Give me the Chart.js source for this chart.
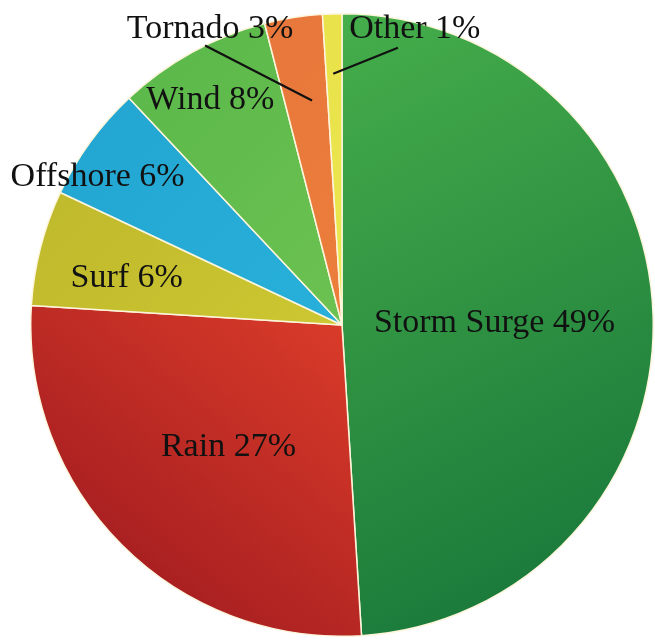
<!DOCTYPE html>
<html>
<head>
<meta charset="utf-8">
<script src="https://cdn.jsdelivr.net/npm/chart.js@4/dist/chart.umd.min.js"></script>
<style>
  html, body { margin: 0; padding: 0; background: #fff; }
  #wrap { width: 655px; height: 640px; position: relative; }
</style>
</head>
<body>
<div id="wrap"><canvas id="pie"></canvas></div>
<script>
// Data
const categories = ['Storm Surge', 'Rain', 'Surf', 'Offshore', 'Wind', 'Tornado', 'Other'];
const shares = [49, 27, 6, 6, 8, 3, 1];

// Flat colours (first stop / second stop for gradient slices)
const colorStops = [
    ['#46ae4b', '#147238'],
    ['#d93b29', '#9c181f'],
    ['#cdc732', '#b9b32a'],
    ['#28b0da', '#21a3cf'],
    ['#6cc251', '#55b548'],
    ['#ec7e3c', '#e4733a'],
    ['#ece64f', '#e6df45']
];

// Label placement: radius fraction and angle offset (deg) from slice middle
const labelLayout = [
    { r: 0.49, da: 1.0 },
    { r: 0.535, da: -2.0 },
    { r: 0.708, da: -2.1 },
    { r: 0.917, da: -4.9 },
    { r: 0.836, da: -1.6 },
    { r: 1.042, da: -15.0, line: [0.728, 1.4, 1.0, -17.1] },
    { r: 0.98, da: 15.6, line: [0.808, -0.2, 0.909, 13.2] }
];

function sliceFill(context) {
    const chart = context.chart;
    const area = chart.chartArea;
    const stops = colorStops[context.dataIndex];
    if (!area) return stops[0];
    const c = chart.ctx;
    const cx = (area.left + area.right) / 2;
    const cy = (area.top + area.bottom) / 2;
    let g;
    if (context.dataIndex === 0) {
        g = c.createLinearGradient(cx, area.top, area.right, area.bottom);
    } else if (context.dataIndex === 1) {
        g = c.createLinearGradient(cx, cy, area.left + 60, area.bottom);
    } else {
        g = c.createLinearGradient(cx, cy, area.left, area.top);
    }
    g.addColorStop(0, stops[0]);
    g.addColorStop(1, stops[1]);
    return g;
}

const sliceLabels = {
    id: 'sliceLabels',
    afterDatasetsDraw(chart) {
        const c = chart.ctx;
        const arcs = chart.getDatasetMeta(0).data;
        c.save();
        c.font = '34px "Liberation Serif", "Times New Roman", serif';
        c.fillStyle = '#111';
        c.textAlign = 'center';
        c.textBaseline = 'middle';
        arcs.forEach((arc, i) => {
            const p = arc.getProps(['x', 'y', 'startAngle', 'endAngle', 'outerRadius'], true);
            const mid = (p.startAngle + p.endAngle) / 2;
            const lay = labelLayout[i];
            const pt = (rf, da) => {
                const a = mid + da * Math.PI / 180;
                return [p.x + Math.cos(a) * p.outerRadius * rf, p.y + Math.sin(a) * p.outerRadius * rf];
            };
            if (lay.line) {
                const a = pt(lay.line[0], lay.line[1]);
                const b = pt(lay.line[2], lay.line[3]);
                c.strokeStyle = '#111';
                c.lineWidth = 2.2;
                c.beginPath();
                c.moveTo(a[0], a[1]);
                c.lineTo(b[0], b[1]);
                c.stroke();
            }
            const t = pt(lay.r, lay.da);
            c.fillText(categories[i] + ' ' + shares[i] + '%', t[0], t[1]);
        });
        c.restore();
    }
};

new Chart(document.getElementById('pie'), {
    type: 'pie',
    data: {
        labels: categories,
        datasets: [{
            data: shares,
            backgroundColor: sliceFill,
            borderColor: '#fdf5dc',
            borderWidth: 1.5
        }]
    },
    options: {
        responsive: true,
        maintainAspectRatio: false,
        animation: false,
        layout: { padding: { left: 30, right: 1, top: 13, bottom: 3 } },
        plugins: {
            legend: { display: false },
            tooltip: { enabled: false }
        }
    },
    plugins: [sliceLabels]
});
</script>
</body>
</html>
